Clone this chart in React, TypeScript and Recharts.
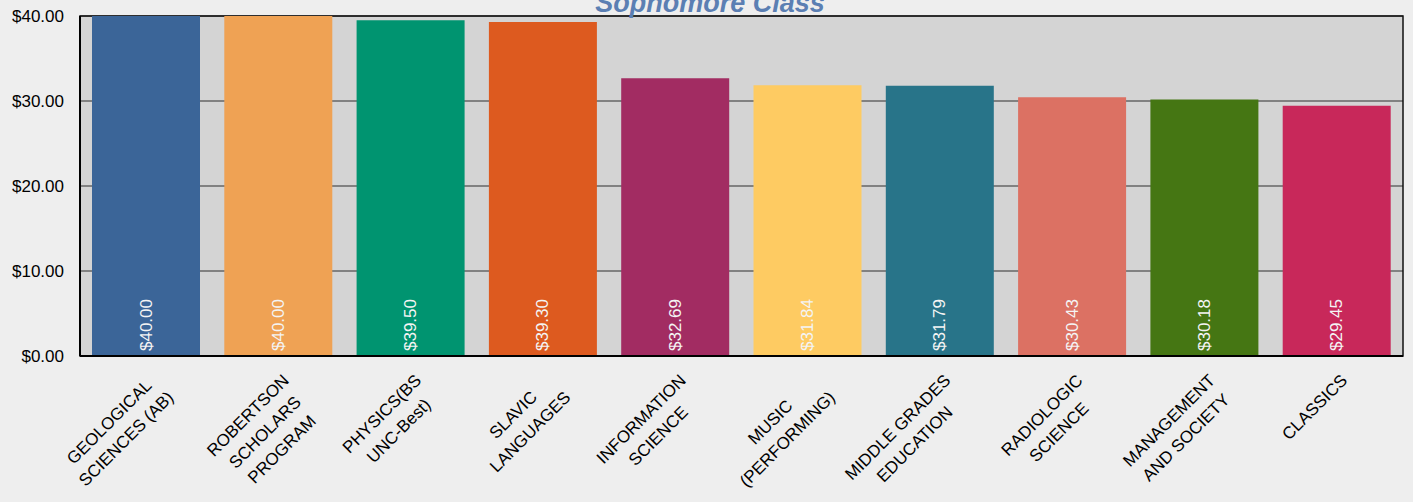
import {
  BarChart,
  Bar,
  XAxis,
  YAxis,
  CartesianGrid,
  Cell,
  LabelList,
  ReferenceArea,
} from "recharts";

const categories = [
  "GEOLOGICAL\nSCIENCES (AB)",
  "ROBERTSON\nSCHOLARS\nPROGRAM",
  "PHYSICS(BS\nUNC-Best)",
  "SLAVIC\nLANGUAGES",
  "INFORMATION\nSCIENCE",
  "MUSIC\n(PERFORMING)",
  "MIDDLE GRADES\nEDUCATION",
  "RADIOLOGIC\nSCIENCE",
  "MANAGEMENT\nAND SOCIETY",
  "CLASSICS",
];

const values = [40, 40, 39.5, 39.3, 32.69, 31.84, 31.79, 30.43, 30.18, 29.45];

const barColors = [
  "#3b6598",
  "#efa254",
  "#009470",
  "#dd5a1f",
  "#a22c62",
  "#fecb62",
  "#287489",
  "#dc7163",
  "#457613",
  "#c8285a",
];

const yTicks = [0, 10, 20, 30, 40];

const FONT = '"Liberation Sans", Arial, sans-serif';

const data = categories.map((name, i) => ({ name, value: values[i] }));

const money = (v: number) => `$${v.toFixed(2)}`;

let ctx: CanvasRenderingContext2D | null = null;
function textWidth(s: string) {
  if (!ctx && typeof document !== "undefined") {
    ctx = document.createElement("canvas").getContext("2d");
  }
  if (!ctx) return s.length * 10;
  ctx.font = `17px ${FONT}`;
  return ctx.measureText(s).width;
}

// rotated, centre-aligned multi-line category labels
function CategoryTick(props: any) {
  const { x, y, payload } = props;
  const lines = String(payload.value).split("\n");
  const maxW = Math.max(...lines.map(textWidth));
  return (
    <g transform={`translate(${x + 3},${y + 17}) rotate(-45)`}>
      {lines.map((line, i) => (
        <text
          key={i}
          x={-maxW / 2}
          y={12 + i * 24}
          textAnchor="middle"
          fontSize={17}
          fontFamily={FONT}
          fill="#000"
        >
          {line}
        </text>
      ))}
    </g>
  );
}

function ValueLabel(props: any) {
  const { x, y, width, height, value } = props;
  const cx = x + width / 2;
  const by = y + height - 5;
  return (
    <text
      x={cx}
      y={by}
      transform={`rotate(-90, ${cx}, ${by})`}
      textAnchor="start"
      dominantBaseline="central"
      fontSize={17}
      fontFamily={FONT}
      fill="#f4f4f4"
    >
      {money(value)}
    </text>
  );
}

export default function App() {
  return (
    <div
      style={{
        position: "absolute",
        left: 0,
        top: 0,
        width: 1413,
        height: 502,
        background: "#eeeeee",
        overflow: "hidden",
      }}
    >
      <BarChart
        width={1413}
        height={502}
        data={data}
        margin={{ top: 16, right: 10, left: 0, bottom: 0 }}
        barCategoryGap={12}
      >
        <CartesianGrid
          vertical={false}
          fill="#d4d4d4"
          stroke="#666"
          strokeWidth={1.5}
        />
        <XAxis
          dataKey="name"
          interval={0}
          height={146}
          tickLine={false}
          tickSize={0}
          tickMargin={0}
          axisLine={{ stroke: "#000", strokeWidth: 2 }}
          tick={<CategoryTick />}
        />
        <YAxis
          width={80}
          domain={[0, 40]}
          ticks={yTicks}
          tickFormatter={money}
          tickLine={false}
          tickSize={6}
          tickMargin={10}
          axisLine={{ stroke: "#000", strokeWidth: 2 }}
          tick={{ fill: "#000", fontSize: 17, fontFamily: FONT }}
        />
        <Bar dataKey="value" isAnimationActive={false}>
          {data.map((entry, index) => (
            <Cell key={`cell-${index}`} fill={barColors[index]} />
          ))}
          <LabelList dataKey="value" content={<ValueLabel />} />
        </Bar>
        <ReferenceArea
          y1={0}
          y2={40}
          fill="none"
          stroke="#111"
          strokeWidth={1.5}
          ifOverflow="visible"
        />
      </BarChart>
      <svg
        width={1413}
        height={30}
        style={{ position: "absolute", left: 0, top: 0 }}
      >
        <text
          x={710}
          y={12}
          textAnchor="middle"
          fontSize={27}
          fontWeight="bold"
          fontStyle="italic"
          fontFamily={FONT}
          fill="#5b7fb3"
        >
          Sophomore Class
        </text>
      </svg>
    </div>
  );
}
